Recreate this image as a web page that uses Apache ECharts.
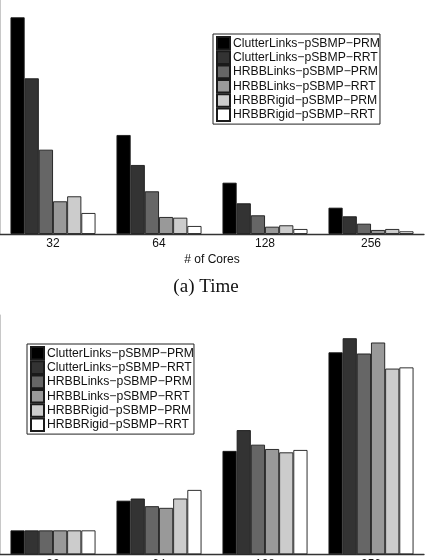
<!DOCTYPE html>
<html>
<head>
<meta charset="utf-8">
<script src="https://cdn.jsdelivr.net/npm/echarts@6/dist/echarts.min.js"></script>
<style>
html,body{margin:0;padding:0;background:#fff;}
#c{width:425px;height:560px;}
</style>
</head>
<body>
<div id="c"></div>
<script>
var cores = ['32', '64', '128', '256'];
var seriesNames = [
  'ClutterLinks\u2212pSBMP\u2212PRM',
  'ClutterLinks\u2212pSBMP\u2212RRT',
  'HRBBLinks\u2212pSBMP\u2212PRM',
  'HRBBLinks\u2212pSBMP\u2212RRT',
  'HRBBRigid\u2212pSBMP\u2212PRM',
  'HRBBRigid\u2212pSBMP\u2212RRT'
];
var seriesColors = ['#000000', '#333333', '#666666', '#999999', '#cccccc', '#ffffff'];

// (a) Time (relative units, y axis unlabeled)
var timeClutterPRM = [216.7, 99.0, 51.3, 26.3];
var timeClutterRRT = [155.7, 69.0, 30.7, 17.7];
var timeLinksPRM   = [84.3, 42.7, 18.7, 10.3];
var timeLinksRRT   = [32.7, 17.0, 7.3, 4.0];
var timeRigidPRM   = [37.7, 16.3, 8.7, 5.0];
var timeRigidRRT   = [21.0, 8.0, 5.0, 2.7];

// (b) Speedup (y axis unlabeled)
var spClutterPRM = [1.0, 2.24, 4.32, 8.44];
var spClutterRRT = [1.0, 2.33, 5.19, 9.03];
var spLinksPRM   = [1.0, 2.01, 4.58, 8.39];
var spLinksRRT   = [1.0, 1.94, 4.40, 8.85];
var spRigidPRM   = [1.0, 2.33, 4.26, 7.76];
var spRigidRRT   = [1.0, 2.69, 4.36, 7.81];

var timeData = [timeClutterPRM, timeClutterRRT, timeLinksPRM, timeLinksRRT, timeRigidPRM, timeRigidRRT];
var spData = [spClutterPRM, spClutterRRT, spLinksPRM, spLinksRRT, spRigidPRM, spRigidRRT];

var chart = echarts.init(document.getElementById('c'), null, {renderer: 'canvas'});

function xAx(gridIndex, withName) {
  return {
    type: 'category', gridIndex: gridIndex, data: cores,
    axisLine: {show: true, lineStyle: {color: '#333', width: 1.3}},
    axisTick: {show: false},
    axisLabel: {color: '#111', fontSize: 12, fontFamily: 'Liberation Sans', margin: 4},
    name: withName ? '# of Cores' : '',
    nameLocation: 'middle', nameGap: 20,
    nameTextStyle: {color: '#111', fontSize: 12, fontFamily: 'Liberation Sans'}
  };
}
function yAx(gridIndex, max) {
  return {
    type: 'value', gridIndex: gridIndex, min: 0, max: max,
    axisLine: {show: true, lineStyle: {color: '#c8c8c8', width: 1}},
    axisTick: {show: false}, axisLabel: {show: false}, splitLine: {show: false}
  };
}

var series = [];
for (var i = 0; i < 6; i++) {
  series.push({
    name: seriesNames[i], type: 'bar', xAxisIndex: 0, yAxisIndex: 0,
    data: timeData[i], barGap: '0%', barCategoryGap: '19.8%',
    itemStyle: {color: seriesColors[i], borderColor: '#1a1a1a', borderWidth: 0.9},
    emphasis: {disabled: true}, animation: false
  });
}
for (var j = 0; j < 6; j++) {
  series.push({
    name: seriesNames[j], type: 'bar', xAxisIndex: 1, yAxisIndex: 1,
    data: spData[j], barGap: '0%', barCategoryGap: '19.8%',
    itemStyle: {color: seriesColors[j], borderColor: '#1a1a1a', borderWidth: 0.9},
    emphasis: {disabled: true}, animation: false
  });
}

function legendAt(left, top) {
  return {
    orient: 'vertical', left: left, top: top,
    data: seriesNames,
    icon: 'rect', itemWidth: 13, itemHeight: 12.6, itemGap: -0.3,
    padding: [2, 0, 2, 3],
    borderColor: '#222', borderWidth: 1, backgroundColor: '#fff',
    selectedMode: false,
    textStyle: {color: '#111', fontSize: 12.2, fontFamily: 'Liberation Sans', padding: [0, 0, 0, -2], lineHeight: 12}
  };
}

chart.setOption({
  animation: false,
  backgroundColor: '#fff',
  grid: [
    {left: 0, top: 0, width: 424, height: 234, containLabel: false, outerBoundsMode: 'none'},
    {left: 0, top: 315, width: 424, height: 239.3, containLabel: false, outerBoundsMode: 'none'}
  ],
  xAxis: [xAx(0, true), xAx(1, false)],
  yAxis: [yAx(0, 234), yAx(1, 10)],
  legend: [legendAt(213, 34), legendAt(27, 344)],
  title: {
    text: '(a) Time', left: 201, top: 273, textAlign: 'center',
    textStyle: {fontFamily: 'Liberation Serif', fontWeight: 'normal', fontSize: 19, color: '#111'}
  },
  series: series
});
</script>
</body>
</html>
